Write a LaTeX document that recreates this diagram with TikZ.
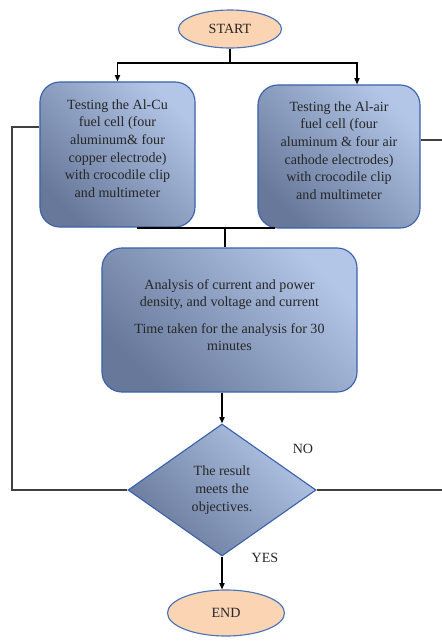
\documentclass[tikz,border=0pt]{standalone}
\usepackage{fontspec}
\setmainfont{Liberation Serif}
\usetikzlibrary{arrows.meta, positioning, shapes.geometric}
\definecolor{boxlight}{HTML}{B3C6E8}
\definecolor{boxdark}{HTML}{67789A}
\definecolor{boxedge}{HTML}{3A62AC}
\definecolor{termfill}{HTML}{FBD4B4}
\definecolor{termedge}{HTML}{4A72B8}

\begin{document}
\begin{tikzpicture}[
            x=0.025cm, y=-0.025cm,
            every node/.style={font=\fontsize{10}{12.6}\selectfont, text=black!85},
            box/.style={
                    draw=boxedge,
                    line width=0.8pt,
                    rounded corners=0.5cm,
                    align=center,
                    top color=boxlight,
                    bottom color=boxdark,
                    shading angle=-45
                },
            terminal/.style={
                    draw=termedge,
                    ellipse,
                    line width=0.8pt,
                    fill=termfill,
                    inner sep=0pt
                },
            decision/.style={
                    draw=boxedge,
                    diamond,
                    line width=0.8pt,
                    align=center,
                    inner sep=0pt,
                    top color=boxlight,
                    bottom color=boxdark,
                    shading angle=-45
                },
            arrow/.style={
                    -{Triangle[length=1.6mm,width=1.3mm]},
                    line width=0.9pt,
                    black
                },
            link/.style={
                    line width=0.9pt,
                    black
                },
            loopback/.style={
                    line width=1.1pt,
                    black!75
                }
        ]

        \useasboundingbox (0,0) rectangle (442,641);
        \clip (0,0) rectangle (442,641);

        \node[terminal, minimum width=2.575cm, minimum height=0.95cm] (start) at (230,29) {START};

        \node[box, minimum width=3.875cm, minimum height=3.625cm] (alcu) at (117.5,154.5)
        {
            Testing the Al-Cu\\
            fuel cell (four\\
            aluminum\& four\\
            copper electrode)\\
            with crocodile clip\\
            and multimeter\\[-4pt]
        };

        \node[box, minimum width=4.05cm, minimum height=3.575cm] (alair) at (339,156.5)
        {
            Testing the Al-air\\
            fuel cell (four\\
            aluminum \& four air\\
            cathode electrodes)\\
            with crocodile clip\\
            and multimeter\\[-4pt]
        };

        \node[box, minimum width=6.375cm, minimum height=3.6cm] (analysis) at (229.5,320)
        {
            Analysis of current and power\\
            density, and voltage and current\\[6pt]
            Time taken for the analysis for 30\\
            minutes\\[-5.5pt]
        };

        \node[decision, minimum width=4.7cm, minimum height=3.3cm] (check) at (222,490)
        {
            The result\\
            meets the\\
            objectives.
        };

        \node[terminal, minimum width=2.925cm, minimum height=1.15cm] (end) at (226,613) {END};

        \node (no) at (303,449) {NO};
        \node (yes) at (265,558) {YES};

        \coordinate (split) at (230,63);
        \coordinate (joinL) at (137,228);
        \coordinate (joinR) at (275,228);
        \coordinate (join) at (225,228);
        \coordinate (backL) at (12,127);
        \coordinate (backR) at (460,140);

        \draw[link] (start.south) -- (split);
        \draw[arrow] (split) -| (alcu.north);
        \draw[arrow] (split) -| ([xshift=4.5mm]alair.north);

        \draw[link] (joinL) -- (joinR);
        \draw[link] (join) -- (join |- analysis.north);

        \draw[arrow] (check.north |- analysis.south) -- (check.north);
        \draw[arrow] (check.south) -- (check.south |- end.north);

        \draw[loopback] (check.west) -| (backL) -- (backL -| alcu.west);
        \draw[loopback] (check.east) -| (backR) -- (backR -| alair.east);

    \end{tikzpicture}
\end{document}
